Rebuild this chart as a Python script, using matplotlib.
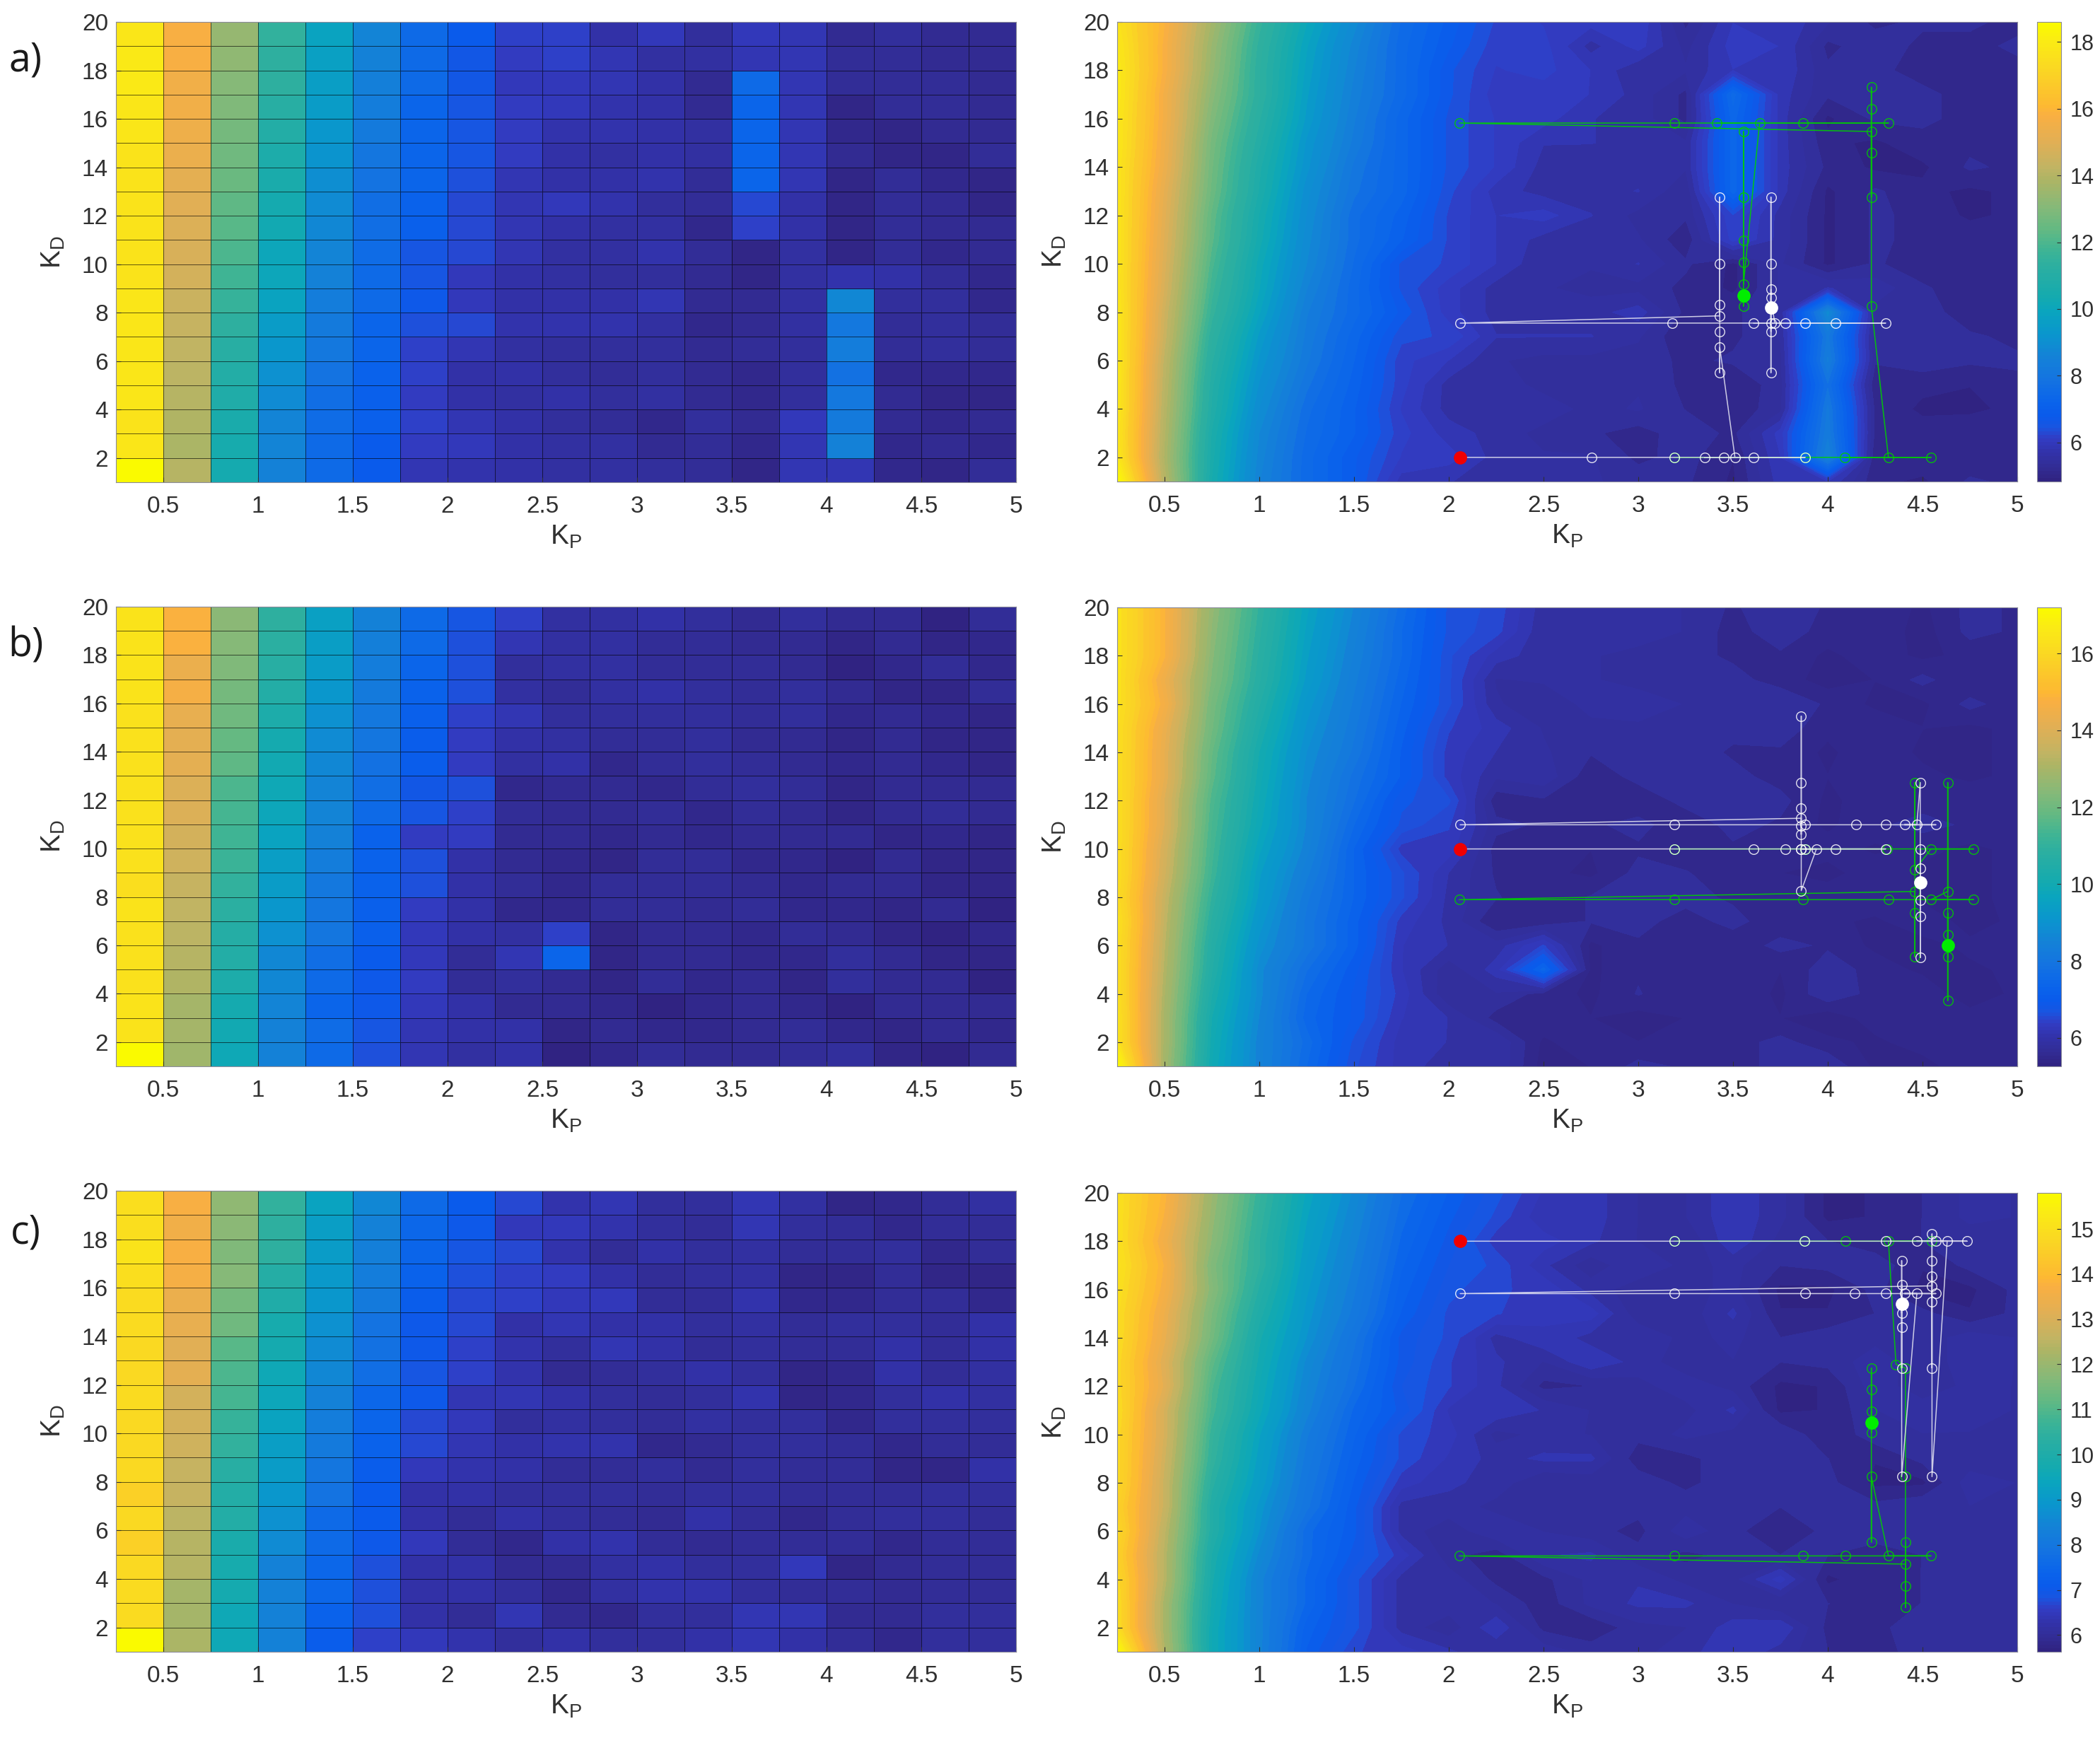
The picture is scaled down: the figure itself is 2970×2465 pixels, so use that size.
import numpy as np
import matplotlib
matplotlib.use("Agg")
import matplotlib.pyplot as plt
from matplotlib.colors import LinearSegmentedColormap, Normalize
from matplotlib.cm import ScalarMappable

KP = np.arange(0.25, 5.01, 0.25)
KD = np.arange(1, 21)
KP_TICKS = [0.5, 1, 1.5, 2, 2.5, 3, 3.5, 4, 4.5, 5]
KP_LABELS = ["0.5", "1", "1.5", "2", "2.5", "3", "3.5", "4", "4.5", "5"]
KD_TICKS = list(range(2, 21, 2))

# rows run from KD=20 (first) down to KD=1 (last)
Z_A = [
[17.6,15.8,13.6,11.6,10.0,8.8,7.6,6.9,6.3,6.1,6.0,6.1,5.2,5.9,5.9,5.5,5.2,5.3,5.3,5.2],
[17.8,15.7,13.4,11.4,9.8,8.6,7.5,6.8,6.2,6.2,5.6,6.0,5.4,6.0,5.9,5.2,5.4,5.2,5.2,5.3],
[17.9,15.7,13.3,11.3,9.7,8.5,7.5,6.6,6.1,6.2,5.9,5.5,5.5,5.9,5.9,5.3,5.3,5.2,5.2,5.2],
[17.9,15.5,13.1,11.3,9.6,8.4,7.5,6.6,6.0,6.0,5.9,5.6,5.2,7.5,5.8,5.3,5.3,5.3,5.2,5.2],
[17.8,15.5,12.9,11.1,9.5,8.3,7.3,6.5,6.1,6.0,5.7,5.6,5.2,7.3,5.8,5.0,5.3,5.3,5.2,5.2],
[17.8,15.4,12.7,10.9,9.3,8.2,7.3,6.5,6.1,5.7,5.7,5.6,5.5,7.3,5.8,5.1,5.0,5.2,5.2,5.2],
[17.7,15.3,12.6,10.7,9.2,8.0,7.3,6.5,6.1,5.6,5.5,5.6,5.5,7.3,5.8,5.2,5.0,5.0,5.3,5.2],
[17.7,15.1,12.5,10.6,9.0,7.9,7.3,6.4,5.8,5.6,5.6,5.7,5.3,7.3,5.8,5.0,5.3,5.1,5.0,5.1],
[17.7,15.0,12.3,10.4,8.9,7.7,7.1,6.3,5.9,6.0,5.7,5.4,5.3,6.3,5.6,5.0,5.3,5.2,5.0,5.1],
[17.7,14.9,12.2,10.3,8.8,7.7,7.0,6.3,5.9,5.6,5.5,5.5,5.1,6.2,5.6,5.0,5.3,5.2,5.2,5.2],
[17.7,14.8,12.0,10.1,8.7,7.6,6.5,6.3,5.9,5.5,5.5,5.7,5.3,5.0,5.5,5.0,5.3,5.1,5.2,5.2],
[17.7,14.7,11.8,10.0,8.5,7.5,6.5,6.0,5.6,5.5,5.4,5.4,5.2,5.0,5.5,5.7,5.6,5.3,5.1,5.2],
[17.8,14.5,11.6,9.8,8.3,7.5,6.7,6.0,5.6,5.6,5.6,5.8,5.2,5.2,5.5,8.8,5.4,5.4,5.1,5.2],
[17.8,14.4,11.3,9.5,8.2,7.3,6.4,6.3,5.7,5.7,5.7,5.5,5.05,5.2,5.5,8.1,5.3,5.4,5.3,5.2],
[17.8,14.2,11.1,9.3,8.1,7.2,6.2,5.9,5.5,5.4,5.4,5.4,5.2,5.3,5.4,8.3,5.3,5.4,5.3,5.3],
[17.8,14.1,10.9,9.1,7.9,7.1,6.2,5.6,5.6,5.4,5.3,5.45,5.2,5.05,5.4,7.8,5.05,5.1,5.05,5.2],
[17.8,14.0,10.8,8.9,7.7,7.0,6.1,5.6,5.5,5.6,5.4,5.5,5.25,5.1,5.4,8.1,5.2,5.0,5.0,5.1],
[17.7,13.9,10.6,8.7,7.6,7.0,6.2,5.8,5.6,5.4,5.3,5.15,5.4,5.2,6.0,8.2,5.2,5.15,5.2,5.1],
[17.8,13.8,10.5,8.6,7.5,6.8,6.1,6.0,5.6,5.5,5.5,5.2,5.35,5.05,5.9,8.5,5.05,5.2,5.1,5.2],
[18.6,14.0,10.4,8.5,7.5,6.8,5.8,5.7,5.6,5.5,5.5,5.4,5.3,5.0,5.8,5.9,5.1,5.0,5.3,5.2],
]
Z_B = [
[16.4,14.8,12.6,11.0,9.6,8.6,7.6,6.7,6.5,5.9,5.9,6.0,5.8,5.6,5.8,5.6,5.6,5.4,5.7,5.6],
[16.4,14.8,12.5,10.9,9.5,8.5,7.5,6.7,6.45,5.85,5.9,6.0,5.8,5.55,5.75,5.55,5.6,5.35,5.7,5.6],
[16.4,14.8,12.4,10.8,9.4,8.4,7.5,6.6,6.1,5.9,5.85,5.7,5.7,5.6,5.6,5.4,5.55,5.4,5.5,5.5],
[16.4,14.4,12.3,10.7,9.3,8.3,7.4,6.6,5.8,5.85,5.85,5.7,5.7,5.7,5.55,5.35,5.45,5.7,5.45,5.5],
[16.4,14.6,12.1,10.5,9.1,8.2,7.3,6.6,5.85,5.65,5.9,6.0,5.8,5.7,5.8,5.6,5.4,5.4,5.7,5.5],
[16.3,14.3,12.0,10.3,8.95,8.1,7.2,6.4,6.1,5.8,5.75,5.75,5.75,5.7,5.75,5.5,5.6,5.45,5.4,5.5],
[16.3,14.2,11.8,10.1,8.8,8.0,7.1,6.3,6.0,5.85,5.65,5.7,5.75,5.6,5.6,5.4,5.6,5.4,5.4,5.5],
[16.3,14.2,11.7,10.0,8.7,7.8,7.1,6.3,5.85,5.95,5.5,5.7,5.75,5.7,5.55,5.45,5.6,5.5,5.4,5.5],
[16.3,14.0,11.5,9.9,8.6,7.7,6.8,6.6,5.5,5.6,5.55,5.5,5.7,5.75,5.7,5.4,5.55,5.55,5.6,5.5],
[16.3,14.0,11.4,9.8,8.6,7.5,6.7,6.4,5.7,5.6,5.6,5.7,5.5,5.7,5.6,5.4,5.6,5.7,5.6,5.5],
[16.3,13.8,11.3,9.6,8.5,7.3,6.3,6.3,5.55,5.55,5.45,5.6,5.5,5.6,5.6,5.55,5.4,5.5,5.4,5.5],
[16.3,13.7,11.2,9.4,8.3,7.3,6.6,6.0,5.6,5.5,5.4,5.7,5.65,5.5,5.45,5.35,5.6,5.4,5.4,5.5],
[16.2,13.5,11.0,9.3,8.1,7.3,6.6,5.95,5.65,5.5,5.65,5.7,5.7,5.6,5.5,5.6,5.6,5.4,5.4,5.5],
[16.4,13.4,10.8,9.1,8.0,7.2,6.3,5.95,5.45,5.5,5.65,5.7,5.55,5.7,5.5,5.5,5.4,5.6,5.35,5.5],
[16.3,13.3,10.6,8.9,8.0,7.2,6.2,6.0,5.9,6.4,5.4,5.6,5.6,5.5,5.7,5.6,5.4,5.35,5.5,5.5],
[16.3,13.2,10.5,8.7,7.7,7.0,6.2,5.7,6.1,7.4,5.4,5.6,5.6,5.5,5.45,5.75,5.55,5.4,5.4,5.5],
[16.3,13.1,10.3,8.7,7.5,6.9,6.3,5.65,5.8,5.55,5.4,5.65,5.45,5.6,5.4,5.8,5.55,5.6,5.3,5.5],
[16.4,13.0,10.1,8.6,7.4,6.9,6.2,6.0,5.55,5.6,5.45,5.35,5.45,5.6,5.45,5.3,5.55,5.6,5.55,5.5],
[16.4,13.0,10.0,8.5,7.6,6.7,6.1,6.0,6.0,5.4,5.6,5.45,5.5,5.55,5.7,5.5,5.4,5.55,5.5,5.5],
[17.2,12.9,9.9,8.5,7.5,6.6,6.1,5.9,6.0,5.35,5.45,5.7,5.6,5.55,5.7,5.8,5.4,5.35,5.6,5.5],
]
Z_C = [
[15.0,13.8,12.0,10.6,9.4,8.6,7.7,7.2,6.8,6.4,6.35,6.1,6.1,6.4,6.15,5.75,5.8,5.95,6.15,6.1],
[15.0,13.7,11.9,10.5,9.3,8.5,7.6,7.1,6.7,6.3,6.35,6.1,6.1,6.4,6.15,5.75,5.8,5.95,6.15,6.1],
[15.0,13.5,11.8,10.4,9.2,8.4,7.5,7.0,6.5,6.5,6.3,6.1,5.95,6.4,6.05,5.95,5.85,5.95,6.0,6.1],
[15.1,13.7,11.6,10.4,9.1,8.3,7.4,6.9,6.7,6.3,6.0,6.25,6.05,6.15,5.95,6.0,6.05,5.8,6.0,6.1],
[15.0,13.6,11.7,10.2,9.0,8.2,7.3,6.8,6.6,6.55,6.2,6.0,6.05,6.15,5.75,5.75,6.0,5.75,5.75,6.0],
[14.9,13.4,11.5,10.0,8.9,8.1,7.2,6.7,6.6,6.45,6.5,6.0,6.0,6.3,5.8,5.8,5.95,6.0,5.8,6.0],
[14.9,13.3,11.4,9.8,8.8,7.9,7.0,6.7,6.2,6.4,6.2,6.25,6.05,6.15,5.95,6.05,6.05,6.0,6.2,6.1],
[14.8,13.1,11.1,9.7,8.6,7.8,7.0,6.6,6.3,6.1,6.4,6.2,6.0,6.1,5.95,6.0,6.2,6.0,6.2,6.1],
[14.8,13.2,10.9,9.6,8.5,7.7,6.9,6.6,6.3,5.9,5.95,6.05,6.2,6.05,5.75,5.8,6.2,6.0,6.15,6.1],
[14.9,12.9,10.8,9.5,8.4,7.5,7.0,6.4,6.4,6.25,6.1,6.0,6.05,6.3,5.75,5.8,6.1,6.2,6.15,6.1],
[14.8,12.9,10.6,9.3,8.2,7.4,6.7,6.5,6.05,6.15,6.1,6.0,6.15,6.05,6.1,5.8,6.05,6.1,6.1,6.1],
[14.8,12.8,10.5,9.2,8.1,7.3,6.7,6.4,6.2,6.3,6.3,5.85,5.9,6.05,6.05,5.95,5.8,6.0,6.0,6.1],
[14.8,12.7,10.3,9.1,8.0,7.2,6.5,6.3,6.2,5.95,6.0,6.05,5.9,6.05,5.95,6.0,5.75,5.75,6.2,6.1],
[14.6,12.7,10.1,8.9,7.9,7.1,6.2,6.2,6.05,6.1,6.05,6.0,6.05,6.05,5.95,6.0,6.0,6.1,6.1,6.0],
[14.8,12.5,10.1,8.8,7.6,7.1,6.2,6.0,6.25,6.1,6.0,5.9,6.2,6.0,5.8,6.0,6.1,6.1,5.95,6.0],
[14.6,12.4,9.9,8.6,7.6,7.0,6.5,6.0,5.85,6.25,6.3,6.0,5.9,6.0,5.95,5.95,5.8,5.95,6.0,6.0],
[14.8,12.4,9.8,8.4,7.5,6.8,6.2,6.2,5.9,5.9,6.15,6.25,6.05,6.05,6.5,5.75,5.9,5.95,6.0,6.0],
[14.9,12.2,9.7,8.4,7.5,6.8,6.2,6.2,6.1,5.85,6.15,6.3,6.3,6.1,5.95,5.95,5.9,5.95,5.95,6.0],
[14.9,12.2,9.6,8.4,7.3,6.8,6.2,6.0,6.4,5.9,5.8,6.05,6.1,6.35,6.4,5.9,5.9,6.05,6.05,6.0],
[15.8,12.3,9.6,8.4,7.2,6.6,6.5,6.3,6.1,6.2,6.05,6.05,6.2,6.4,6.2,5.95,5.85,6.05,6.05,6.0],
]
RANGE_A = (4.83, 18.6)
RANGE_B = (5.26, 17.2)
RANGE_C = (5.63, 15.8)
CB_TICKS_A = [6, 8, 10, 12, 14, 16, 18]
CB_TICKS_B = [6, 8, 10, 12, 14, 16]
CB_TICKS_C = [6, 7, 8, 9, 10, 11, 12, 13, 14, 15]

# search paths: (KP, KD)
WHITE_A_X = [2.06,2.755,3.19,3.88,3.61,3.35,3.45,3.51,3.43,3.43,3.43,3.43,3.43,3.43,3.43,2.06,3.18,4.305,3.88,4.04,3.61,3.775,3.72,3.70,3.70,3.70,3.70,3.70,3.70,3.70,3.70]
WHITE_A_Y = [2,2,2,2,2,2,2,2,6.55,5.5,7.2,12.76,10,8.3,7.85,7.55,7.55,7.55,7.55,7.55,7.55,7.55,7.55,8.6,5.5,12.76,10,7.55,7.2,8.94,8.18]
GREEN_A_X = [3.19,3.88,4.545,4.09,4.32,4.23,4.23,4.23,4.23,4.23,4.23,2.055,3.19,4.32,3.87,3.415,3.64,3.555,3.555,3.555,3.555,3.555,3.555,3.555]
GREEN_A_Y = [2,2,2,2,2,8.25,17.3,16.4,14.6,12.76,15.47,15.82,15.82,15.82,15.82,15.82,15.82,9.15,15.48,12.76,10.97,10.05,8.25,8.7]
WHITE_B_X = [2.06,3.19,3.61,3.775,3.88,4.04,4.305,3.86,3.94,3.86,3.86,3.86,3.86,3.86,3.86,3.86,3.86,2.06,3.19,3.88,4.15,4.305,4.57,4.405,4.47,4.488,4.488,4.488,4.488,4.488,4.488,4.488]
WHITE_B_Y = [10,10,10,10,10,10,10,10,10,8.27,10,15.5,12.75,11.7,10.6,10.95,11.27,11,11,11,11,11,11,11,11,12.75,5.5,7.88,7.2,10,9.2,8.6]
GREEN_B_X = [3.19,3.88,4.315,4.77,4.545,4.46,4.46,4.46,4.46,4.46,2.055,3.19,3.87,4.32,4.77,4.545,4.633,4.633,4.633,4.633,4.633,4.633,4.633]
GREEN_B_Y = [10,10,10,10,10,9.14,12.75,5.53,7.34,8.24,7.9,7.9,7.9,7.9,7.9,7.9,8.24,12.75,3.72,7.34,5.53,6.44,6.0]
WHITE_C_X = [2.06,3.19,3.875,4.305,4.735,4.47,4.57,4.63,4.55,4.55,4.55,4.55,4.55,4.55,4.55,2.06,3.19,3.88,4.14,4.305,4.57,4.405,4.47,4.39,4.39,4.39,4.39,4.39,4.39,4.39]
WHITE_C_Y = [18,18,18,18,18,18,18,18,8.25,18.3,17.2,12.75,15.5,16.55,16.15,15.83,15.83,15.83,15.83,15.83,15.83,15.83,15.83,8.25,17.2,12.75,14.45,16.2,15.03,15.4]
GREEN_C_X = [3.19,3.875,4.095,4.55,4.32,4.36,4.41,4.41,4.41,4.41,4.41,4.41,2.055,3.19,3.87,4.095,4.545,4.32,4.23,4.23,4.23,4.23,4.23,4.23,4.23]
GREEN_C_Y = [18,18,18,18,18,12.9,12.75,8.25,2.83,3.73,5.53,4.63,4.97,4.97,4.97,4.97,4.97,4.97,8.25,5.53,12.75,11.87,10.07,10.95,10.5]

PANELS = [
    ("a)", Z_A, RANGE_A, CB_TICKS_A, WHITE_A_X, WHITE_A_Y, GREEN_A_X, GREEN_A_Y, (31, 682), (31, 681), 86),
    ("b)", Z_B, RANGE_B, CB_TICKS_B, WHITE_B_X, WHITE_B_Y, GREEN_B_X, GREEN_B_Y, (858, 1508), (859, 1508), 914),
    ("c)", Z_C, RANGE_C, CB_TICKS_C, WHITE_C_X, WHITE_C_Y, GREEN_C_X, GREEN_C_Y, (1684, 2336), (1687, 2336), 1744),
]

# colormap (position, RGB)
CMAP_POS = [0, .03, .06, .09, .115, .14, .17, .22, .27, .32, .37, .40, .47, .50, .55, .60, .66, .68, .74, .80, .82, .90, .96, 1]
CMAP_RGB = [(48,35,130),(50,45,150),(50,50,170),(50,60,195),(25,85,225),(10,90,235),(10,100,235),
            (20,115,225),(20,130,215),(10,150,205),(10,165,190),(20,170,175),(45,175,160),(60,180,150),
            (100,185,130),(135,185,120),(175,180,100),(190,180,100),(225,175,85),(250,175,65),(253,185,50),
            (250,215,35),(250,235,20),(250,250,0)]
cmap = LinearSegmentedColormap.from_list(
    "parula_like", [(p, tuple(c / 255 for c in rgb)) for p, rgb in zip(CMAP_POS, CMAP_RGB)], N=128)

plt.rcParams["font.family"] = ["Liberation Sans", "DejaVu Sans"]
plt.rcParams["mathtext.fontset"] = "custom"
plt.rcParams["mathtext.rm"] = "Liberation Sans"
plt.rcParams["mathtext.default"] = "rm"

W, H = 2970, 2465
fig = plt.figure(figsize=(W / 100, H / 100), dpi=100, facecolor="white")
TICK_COLOR = "#303030"
FS = 24


def make_axes(x0, x1, yr):
    return fig.add_axes([x0 / W, 1 - yr[1] / H, (x1 - x0) / W, (yr[1] - yr[0]) / H])


def style(ax, label_dx):
    ax.set_xlim(0.25, 5)
    ax.set_ylim(1, 20)
    ax.set_xticks(KP_TICKS)
    ax.set_xticklabels(KP_LABELS)
    ax.set_yticks(KD_TICKS)
    ax.tick_params(direction="in", length=5, width=0.8, color=TICK_COLOR, labelcolor=TICK_COLOR,
                   labelsize=FS, pad=8)
    ax.tick_params(axis="x", pad=14)
    for s in ax.spines.values():
        s.set_linewidth(0.8)
        s.set_color("#8a8a9a")
    ax.set_xlabel("K$_{P}$", fontsize=28, color=TICK_COLOR)
    ax.set_ylabel("K$_{D}$", fontsize=28, color=TICK_COLOR)
    ax.xaxis.set_label_coords(0.5, -0.09)
    ax.yaxis.set_label_coords(label_dx, 0.5)


for name, z, rng, cbt, wx, wy, gx, gy, yl, yr, ly in PANELS:
    Z = np.array(z)[::-1]
    norm = Normalize(*rng)

    axl = make_axes(164, 1437, yl)
    axl.pcolormesh(KP, KD, Z[:-1, :-1], cmap=cmap, norm=norm, shading="flat",
                   edgecolors=(0, 0, 0, 0.6), linewidth=0.7)
    style(axl, -0.055)

    axr = make_axes(1580, 2853, yr)
    axr.contourf(KP, KD, Z, levels=np.linspace(rng[0], rng[1], 65), cmap=cmap, norm=norm)
    style(axr, -0.055)

    ms, mew, lw = 9.8, 1.0, 1.1
    axr.plot(gx, gy, color="#00d000", lw=lw, marker="o", ms=ms, mfc="none", mew=mew,
             mec=(0, 0.8, 0, 0.6), alpha=0.9)
    axr.plot(wx, wy, color="#e8e8f4", lw=lw, marker="o", ms=ms, mfc="none", mew=mew,
             mec=(1, 1, 1, 0.55), alpha=0.85)
    axr.plot(wx[0], wy[0], "o", color="#f00000", ms=13.5, mec="none")
    axr.plot(wx[-1], wy[-1], "o", color="white", ms=13.5, mec="none")
    axr.plot(gx[-1], gy[-1], "o", color="#00ee00", ms=13.5, mec="none")

    cax = make_axes(2881, 2915, yr)
    cb = fig.colorbar(ScalarMappable(norm=norm, cmap=cmap), cax=cax)
    cb.set_ticks(cbt)
    cb.ax.tick_params(direction="in", length=4, width=0.8, color=TICK_COLOR, labelcolor=TICK_COLOR,
                      labelsize=22, pad=9)
    cb.outline.set_linewidth(0.8)
    cb.outline.set_edgecolor("#8a8a9a")

    fig.text(36 / W, 1 - ly / H, name, fontsize=40, family="Open Sans", color="#1a1a1a",
             ha="center", va="center")

fig.savefig("out.png", dpi=100, facecolor="white")
